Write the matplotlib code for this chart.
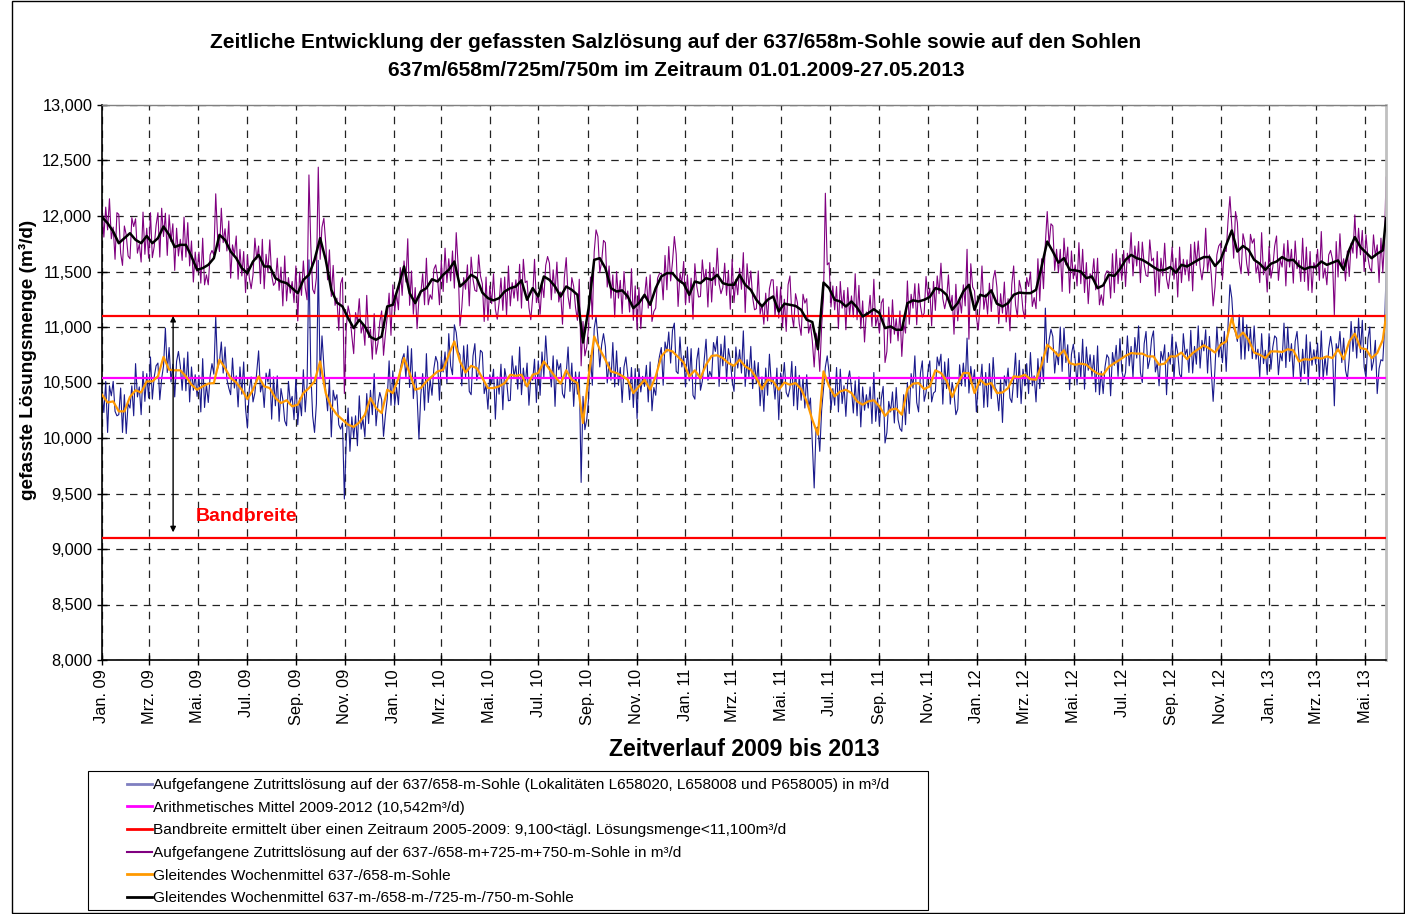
import numpy as np
import matplotlib
matplotlib.use('Agg')
import matplotlib.pyplot as plt
from matplotlib.ticker import FuncFormatter, MultipleLocator
from matplotlib.patches import Rectangle
from matplotlib.lines import Line2D

plt.rcParams['font.family'] = ['Liberation Sans', 'DejaVu Sans']

# ---------------- data ----------------
start_date = '2009-01-01'
end_date = '2013-05-27'

tick_labels = ['Jan. 09', 'Mrz. 09', 'Mai. 09', 'Jul. 09', 'Sep. 09', 'Nov. 09',
               'Jan. 10', 'Mrz. 10', 'Mai. 10', 'Jul. 10', 'Sep. 10', 'Nov. 10',
               'Jan. 11', 'Mrz. 11', 'Mai. 11', 'Jul. 11', 'Sep. 11', 'Nov. 11',
               'Jan. 12', 'Mrz. 12', 'Mai. 12', 'Jul. 12', 'Sep. 12', 'Nov. 12',
               'Jan. 13', 'Mrz. 13', 'Mai. 13']

mean_2009_2012 = 10542
band_low = 9100
band_high = 11100

# weekly moving average 637/658/725/750 (black), one value per week + last day
ma_total = [11990,11935,11860,11755,11800,11845,11785,11755,11820,11755,
            11800,11905,11830,11720,11740,11740,11635,11515,11530,11560,
            11620,11830,11785,11680,11620,11530,11485,11590,11650,11545,
            11545,11440,11410,11395,11350,11305,11425,11470,11605,11800,
            11605,11335,11220,11185,11080,10990,11065,11005,10910,10885,
            10915,11185,11200,11365,11545,11305,11215,11320,11350,11430,
            11410,11470,11515,11590,11365,11410,11470,11440,11310,11260,
            11240,11260,11320,11350,11365,11420,11245,11350,11275,11455,
            11425,11365,11275,11365,11335,11290,10860,11170,11605,11620,
            11530,11350,11320,11330,11275,11170,11215,11290,11200,11350,
            11455,11485,11485,11425,11390,11290,11410,11395,11440,11425,
            11470,11395,11380,11380,11470,11380,11335,11245,11185,11245,
            11275,11140,11210,11200,11190,11155,11065,11045,10800,11400,
            11350,11245,11230,11185,11230,11175,11095,11125,11160,11125,
            10990,11005,10975,10975,11215,11240,11230,11245,11270,11350,
            11335,11290,11155,11215,11320,11380,11155,11290,11275,11330,
            11210,11185,11215,11290,11310,11305,11305,11335,11545,11770,
            11680,11580,11620,11515,11510,11500,11440,11455,11350,11375,
            11470,11460,11520,11605,11650,11620,11605,11575,11540,11510,
            11515,11540,11490,11560,11545,11575,11605,11630,11630,11550,
            11605,11740,11870,11680,11730,11695,11605,11570,11515,11570,
            11590,11630,11600,11605,11550,11520,11540,11540,11590,11560,
            11580,11600,11515,11695,11810,11720,11670,11620,11660,11690,
            11980]

# weekly moving average 637/658 (orange)
ma_637 = [10390,10320,10330,10240,10240,10370,10430,10410,10510,10510,
          10555,10730,10615,10610,10610,10555,10480,10435,10465,10490,
          10495,10705,10630,10540,10500,10435,10350,10435,10555,10465,
          10450,10360,10315,10340,10285,10300,10405,10450,10510,10690,
          10405,10280,10210,10165,10120,10100,10140,10210,10360,10270,
          10225,10435,10405,10540,10720,10585,10435,10450,10510,10555,
          10600,10615,10750,10870,10690,10590,10650,10630,10540,10450,
          10450,10465,10495,10570,10560,10570,10465,10570,10585,10690,
          10620,10555,10490,10610,10525,10495,10135,10555,10915,10800,
          10705,10600,10585,10560,10525,10405,10465,10525,10435,10555,
          10735,10795,10780,10730,10680,10555,10610,10540,10660,10740,
          10745,10720,10675,10650,10705,10645,10615,10540,10440,10525,
          10510,10435,10500,10480,10495,10440,10330,10165,10030,10600,
          10465,10375,10420,10435,10405,10330,10300,10330,10340,10285,
          10200,10255,10265,10210,10440,10490,10495,10440,10465,10610,
          10585,10515,10370,10490,10585,10585,10405,10525,10480,10495,
          10405,10410,10450,10555,10550,10570,10530,10525,10660,10840,
          10795,10740,10790,10675,10660,10670,10660,10615,10580,10570,
          10640,10675,10705,10740,10765,10760,10760,10735,10735,10660,
          10670,10735,10735,10770,10710,10765,10800,10835,10805,10770,
          10840,10870,11080,10900,10950,10885,10770,10750,10720,10780,
          10780,10775,10800,10790,10690,10710,10705,10725,10715,10735,
          10720,10800,10710,10870,10940,10810,10800,10720,10765,10885,
          11100]

# collected solution 637/658+725+750 (purple), three readings per week + last day
sol_total = [
    12080,11810,12080, 11875,12155,11795, 11900,11610,12030, 12015,11665,11555, 11910,11830,11640,
    11615,11985,11905, 11975,11665,11745, 11585,12035,11655, 11890,11620,12030, 11625,11725,11915,
    12030,11630,12070, 11815,12025,11645, 12010,11770,11930, 11510,11890,11640, 11790,11600,11990,
    11630,11940,11550, 11775,11405,11675, 11495,11675,11395, 11800,11380,11470, 11380,11650,11690,
    11650,12200,11810, 11680,12070,11760, 11885,11685,11955, 11440,11740,11650, 11820,11430,11700,
    11460,11680,11310, 11645,11445,11345, 11470,11800,11610, 11730,11390,11790, 11345,11655,11495,
    11785,11465,11375, 11400,11620,11330, 11540,11190,11640, 11235,11445,11305, 11410,11220,11550,
    11055,11495,11285, 11595,11355,11245, 12370,11730,11340, 11300,11445,12440, 11610,11900,11980,
    11755,11425,11695, 11275,11555,11195, 11260,10970,11390, 11445,10400,10985, 11190,11110,10920,
    10760,11130,11050, 11255,10945,11025, 10835,11285,10905, 10980,10710,11120, 10755,10855,11045,
    11145,10745,10935, 11095,11305,10925, 11380,11140,11300, 11155,11535,11285, 11595,11405,11795,
    11195,11505,11115, 11355,10985,11255, 11300,11480,11200, 11620,11200,11290, 11250,11520,11560,
    11440,11200,11600, 11320,11710,11400, 11615,11415,11685, 11350,11850,11560, 11010,11175,11445,
    11340,11560,11190, 11630,11430,11330, 11320,11650,11460, 11390,11050,11450, 11060,11370,11210,
    11480,11160,11070, 11220,11440,11150, 11450,11100,11550, 11190,11400,11260, 11425,11235,11565,
    11170,11610,11400, 11415,11175,11065, 11270,11610,11220, 11295,11115,11395, 11265,11555,11635,
    11575,11245,11515, 11305,11585,11225, 11315,11025,11445, 11625,11275,11165, 11445,11365,11175,
    11060,11430,10650, 11050,10740,10820, 11000,11450,11070, 11675,11875,11815, 11490,11590,11780,
    11760,11360,11550, 11260,11470,11090, 11500,11260,11420, 11120,11500,11250, 11325,11135,11525,
    11060,11370,10980, 11355,10985,11255, 11270,11450,11170, 11470,11050,11140, 11170,11440,11480,
    11485,11245,11645, 11335,11725,11415, 11585,11815,11655, 11185,11485,11395, 11590,11200,11470,
    11220,11440,11070, 11570,11370,11270, 11275,11605,11415, 11520,11180,11580, 11225,11535,11375,
    11710,11390,11300, 11355,11575,11285, 11510,11160,11610, 11220,11430,11290, 11530,11340,11670,
    11130,11570,11360, 11505,11265,11155, 11165,11505,11115, 11205,11025,11305, 11055,11345,11425,
    11425,11095,11365, 11080,11360,11000, 11250,10960,11380, 11460,11110,11000, 11300,11220,11030,
    10925,11295,11215, 11255,10945,11025, 10875,10640,10945, 10870,10600,11010, 11270,12205,11560,
    11580,11180,11370, 11155,11365,10985, 11410,11170,11330, 10975,11355,11105, 11280,11090,11480,
    11065,11375,10985, 11235,10865,11135, 11105,11285,11005, 11430,11010,11100, 10945,11215,11255,
    10680,10780,11180, 10855,11245,10935, 11075,10875,11145, 10735,11035,10945, 11415,11025,11295,
    11170,11390,11020, 11390,11190,11090, 11125,11455,11265, 11350,11010,11410, 11150,11460,11300,
    11575,11255,11165, 11250,11470,11180, 11285,10935,11385, 11055,11265,11125, 11380,11190,11700,
    10890,11570,11360, 11325,11085,10975, 11210,11550,11160, 11295,11115,11395, 11140,11430,11510,
    11360,11030,11300, 11125,11405,11045, 11255,10965,11385, 11550,11200,11090, 11420,11340,11150,
    11075,11445,11365, 11495,11185,11265, 11165,11615,11235, 11615,11345,11755, 12040,11740,11930,
    11910,11510,11700, 11490,11700,11320, 11800,11560,11720, 11305,11685,11435, 11560,11370,11760,
    11390,11700,11310, 11580,11210,11480, 11435,11615,11335, 11620,11200,11290, 11195,11465,11505,
    11500,11260,11660, 11310,11700,11390, 11620,11420,11690, 11365,11665,11575, 11850,11460,11730,
    11550,11770,11400, 11765,11565,11465, 11455,11785,11595, 11620,11280,11680, 11310,11620,11460,
    11755,11435,11345, 11500,11720,11430, 11620,11270,11720, 11400,11610,11470, 11605,11415,11745,
    11325,11765,11555, 11775,11535,11425, 11550,11890,11500, 11650,11470,11190, 11360,11650,11730,
    11755,11425,11695, 11680,11960,12175, 11910,11620,12040, 11940,11590,11480, 11840,11760,11570,
    11465,11835,11755, 11795,11485,11565, 11400,11850,11470, 11585,11315,11725, 11440,11540,11730,
    11820,11420,11610, 11540,11750,11370, 11780,11540,11700, 11395,11775,11525, 11600,11410,11800,
    11410,11720,11330, 11680,11310,11580, 11520,11700,11420, 11860,11440,11530, 11380,11650,11690,
    11610,11110,11770, 11450,11840,11530, 11615,11415,11685, 11455,11755,11665, 12010,11620,11890,
    11650,11870,11500, 11830,11630,11530, 11500,11830,11640, 11740,11400,11800, 11490,11800,
    12350]

# collected solution 637/658 (navy), three readings per week + last day
sol_637 = [
    10400,10230,10510, 10050,10470,10380, 10510,10240,10200, 10210,10450,10050, 10390,10040,10310,
    10270,10470,10200, 10670,10370,10460, 10210,10600,10330, 10580,10360,10730, 10350,10550,10650,
    10675,10345,10535, 10650,10990,10590, 10815,10505,10665, 10370,10690,10780, 10650,10430,10720,
    10425,10775,10325, 10640,10430,10570, 10375,10565,10235, 10715,10275,10485, 10320,10560,10670,
    10575,11095,10625, 10685,10865,10585, 10820,10530,10450, 10390,10720,10450, 10560,10280,10640,
    10395,10685,10265, 10090,10440,10550, 10325,10405,10595, 10785,10415,10495, 10275,10585,10505,
    10620,10170,10550, 10290,10560,10150, 10445,10345,10155, 10110,10510,10320, 10375,10165,10545,
    10120,10360,10200, 10615,10235,10485, 11605,10590,10200, 10050,10310,11600, 10550,10920,10650,
    10425,10245,10525, 10010,10430,10340, 10390,10120,10080, 10135, 9450, 9975, 10270, 9880,10190,
    10000,10200, 9930, 10380,10080,10170, 10010,10400,10130, 10430,10210,10580, 10110,10310,10410,
    10345,10015,10205, 10355,10695,10295, 10605,10295,10455, 10300,10620,10710, 10760,10540,10830,
    10455,10805,10355, 10595,10385, 9990, 10390,10580,10250, 10760,10320,10530, 10385,10625,10735,
    10680,10340,10730, 10595,10775,10495, 10940,10650,10570, 11020,10950,10780, 10750,10470,10830,
    10550,10840,10420, 10390,10740,10850, 10520,10600,10790, 10770,10400,10480, 10260,10570,10490,
    10620,10170,10550, 10395,10665,10255, 10625,10525,10335, 10340,10740,10550, 10650,10440,10820,
    10390,10630,10470, 10675,10295,10545, 10520,10710,10320, 10695,10385,10775, 10550,10920,10650,
    10640,10460,10740, 10285,10705,10615, 10670,10400,10360, 10580,10820,10420, 10675,10285,10595,
    10395,10595, 9600, 10375,10075,10165, 10355,10745,10475, 10985,11095,10900, 10640,10840,10940,
    10825,10495,10685, 10520,10860,10460, 10785,10475,10635, 10320,10640,10730, 10565,10345,10635,
    10275,10625,10175, 10625,10415,10555, 10465,10655,10325, 10685,10245,10455, 10385,10625,10735,
    10815,10475,10865, 10775,10955,10675, 10970,11035,10600, 10580,10910,10640, 10740,10460,10820,
    10515,10805,10385, 10350,10700,10810, 10430,10510,10700, 10890,10520,10600, 10550,10860,10780,
    10915,10465,10845, 10650,10920,10510, 10805,10705,10515, 10420,10820,10630, 10795,10585,10965,
    10465,10705,10545, 10825,10445,10695, 10490,10680,10290, 10550,10240,10630, 10385,10755,10485,
    10530,10350,10630, 10165,10585,10495, 10680,10410,10370, 10450,10690,10290, 10645,10255,10565,
    10340,10540,10270, 10570,10270,10360,  9965, 9550,10085, 10100, 9880,10250, 10440,10640,10740,
    10585,10255,10445, 10295,10635,10235, 10620,10310,10470, 10195,10515,10605, 10445,10225,10515,
    10200,10550,10100, 10460,10250,10390, 10270,10460,10130, 10590,10150,10360, 10115,10355,10465,
     9955,10050,10330, 10235,10415,10135, 10455,10165,10085, 10060,10390,10120, 10500,10220,10580,
    10450,10740,10320, 10235,10585,10695, 10330,10410,10600, 10695,10325,10405, 10420,10730,10650,
    10755,10305,10685, 10445,10715,10305, 10500,10400,10210, 10260,10660,10470, 10675,10465,10900,
    10405,10645,10485, 10615,10235,10485, 10475,10665,10275, 10590,10280,10670, 10355,10725,10455,
    10425,10245,10525, 10140,10560,10470, 10630,10360,10320, 10525,10765,10365, 10700,10310,10620,
    10470,10670,10400, 10770,10470,10560, 10325,10715,10445, 10730,10510,11170, 10680,10880,10980,
    10915,10585,10775, 10660,11000,10600, 10990,10680,10840, 10435,10755,10845, 10700,10480,10770,
    10540,10890,10440, 10820,10610,10750, 10555,10745,10415, 10830,10390,10600, 10400,10640,10750,
    10720,10380,10770, 10655,10835,10555, 10895,10605,10525, 10590,10920,10650, 10825,10545,10905,
    10720,11010,10590, 10500,10850,10960, 10625,10705,10895, 10965,10595,10675, 10470,10780,10700,
    10840,10390,10770, 10665,10935,10525, 10865,10765,10575, 10540,10940,10750, 10800,10590,10970,
    10585,10825,10665, 11010,10630,10880, 10785,10975,10585, 10915,10605,10330, 10630,11000,10730,
    10860,10680,10960, 10600,11020,11380, 11260,10990,10950, 10870,11110,10710, 11100,10710,11020,
    10785,10985,10715, 11010,10710,10800, 10550,10940,10670, 10790,10570,10940, 10620,10820,10920,
    10900,10570,10760, 10695,11035,10635, 11000,10690,10850, 10550,10870,10960, 10730,10510,10800,
    10580,10930,10480, 10865,10655,10795, 10665,10855,10525, 10965,10525,10735, 10565,10805,10915,
    10800,10290,10850, 10780,10960,10680, 10900,10610,10530, 10720,11050,10780, 11000,10720,11080,
    10770,11060,10640, 10540,10890,11000, 10610,10690,10880, 10400,10625,10705, 10695,11005,
    11485]

legend_labels = [
    'Aufgefangene Zutrittslösung auf der 637/658-m-Sohle (Lokalitäten L658020, L658008 und P658005) in m³/d',
    'Arithmetisches Mittel 2009-2012 (10,542m³/d)',
    'Bandbreite ermittelt über einen Zeitraum 2005-2009: 9,100<tägl. Lösungsmenge<11,100m³/d',
    'Aufgefangene Zutrittslösung auf der 637-/658-m+725-m+750-m-Sohle in m³/d',
    'Gleitendes Wochenmittel 637-/658-m-Sohle',
    'Gleitendes Wochenmittel 637-m-/658-m-/725-m-/750-m-Sohle',
]

# ---------------- positions ----------------
t0 = np.datetime64(start_date + 'T00', 'h')
t_end = np.datetime64(end_date + 'T00', 'h')

def dates_for(n, step_hours):
    d = t0 + (np.arange(n - 1) * step_hours).astype('timedelta64[h]')
    return np.append(d, t_end)

x_week = dates_for(len(ma_total), 168)
x_daily = dates_for(len(sol_total), 56)
tick_pos = [np.datetime64('2009-01-01', 'M') + np.timedelta64(2 * i, 'M') for i in range(len(tick_labels))]
tick_pos = [np.datetime64(t, 'D') for t in tick_pos]

# ---------------- figure ----------------
W, H = 1405, 914
fig = plt.figure(figsize=(W / 100, H / 100), dpi=100)
fig.patches.append(Rectangle((12 / W, 1 / H), 1 - 13 / W, 1 - 2 / H, transform=fig.transFigure,
                             fill=False, edgecolor='black', lw=1.0))

L, R, T, B = 102, 1386, 105, 660
ax = fig.add_axes([L / W, 1 - B / H, (R - L) / W, (B - T) / H])

l_n, = ax.plot(x_daily, sol_637, color='#1a1a8c', lw=0.8, zorder=2)
l_p, = ax.plot(x_daily, sol_total, color='#800080', lw=0.8, zorder=2)
l_m = ax.axhline(mean_2009_2012, color='#FF00FF', lw=1.6, zorder=3)
l_r = ax.axhline(band_high, color='#FF0000', lw=1.6, zorder=3)
ax.axhline(band_low, color='#FF0000', lw=1.6, zorder=3)
l_o, = ax.plot(x_week, ma_637, color='#FF9900', lw=1.6, zorder=4)
l_b, = ax.plot(x_week, ma_total, color='black', lw=1.8, zorder=4)

ax.set_xlim(np.datetime64(start_date), np.datetime64(end_date))
ax.set_ylim(8000, 13000)
ax.yaxis.set_major_locator(MultipleLocator(500))
ax.yaxis.set_major_formatter(FuncFormatter(lambda v, p: f"{v:,.0f}"))
ax.set_xticks(tick_pos)
ax.set_xticklabels(tick_labels, rotation=90)
ax.tick_params(axis='both', direction='inout', length=7, width=1, labelsize=11.8, colors='black')
ax.tick_params(axis='x', pad=3)
ax.grid(True, color='#222222', linestyle=(0, (6, 5)), lw=0.9, zorder=1)

for s in ('left', 'bottom'):
    ax.spines[s].set_color('black')
    ax.spines[s].set_linewidth(1.2)
ax.spines['top'].set_color('#808080')
ax.spines['top'].set_linewidth(1.0)
ax.spines['right'].set_color('#c0c0c0')
ax.spines['right'].set_linewidth(2.0)

# range arrow + label
ax.annotate('', xy=(np.datetime64('2009-03-31'), band_high), xytext=(np.datetime64('2009-03-31'), 9150),
            arrowprops=dict(arrowstyle='<|-|>', color='black', lw=1.0, mutation_scale=8,
                            shrinkA=0, shrinkB=0), zorder=5)
ax.text(np.datetime64('2009-04-28'), 9290, 'Bandbreite', color='#FF0000', fontweight='bold',
        fontsize=14, ha='left', va='center', zorder=5)

# titles
fig.text(676 / W, 1 - 42 / H,
         'Zeitliche Entwicklung der gefassten Salzlösung auf der 637/658m-Sohle sowie auf den Sohlen',
         ha='center', va='center', fontsize=15, fontweight='bold')
fig.text(676 / W, 1 - 70 / H, '637m/658m/725m/750m im Zeitraum 01.01.2009-27.05.2013',
         ha='center', va='center', fontsize=15, fontweight='bold')
fig.text(28 / W, 1 - 360 / H, 'gefasste Lösungsmenge (m³/d)', rotation=90,
         ha='center', va='center', fontsize=13.7, fontweight='bold')
fig.text(744 / W, 1 - 749 / H, 'Zeitverlauf 2009 bis 2013', ha='center', va='center',
         fontsize=16.6, fontweight='bold')

# legend
fig.patches.append(Rectangle((88 / W, 1 - 910 / H), 840 / W, 139 / H, transform=fig.transFigure,
                             fill=False, edgecolor='black', lw=0.8))
handles = [l_n, l_m, l_r, l_p, l_o, l_b]
handles = [Line2D([], [], color=h.get_color(), lw=2.0 if i != 3 else 1.5) for i, h in enumerate(handles)]
handles[0].set_color('#7f7fc0')
fig.legend(handles, legend_labels, loc='upper left', bbox_to_anchor=(127 / W, 1 - 778 / H),
           frameon=False, fontsize=11.1, handlelength=1.6, handletextpad=0.1,
           labelspacing=0.56, borderpad=0, borderaxespad=0)

fig.savefig('out.png', dpi=100)
